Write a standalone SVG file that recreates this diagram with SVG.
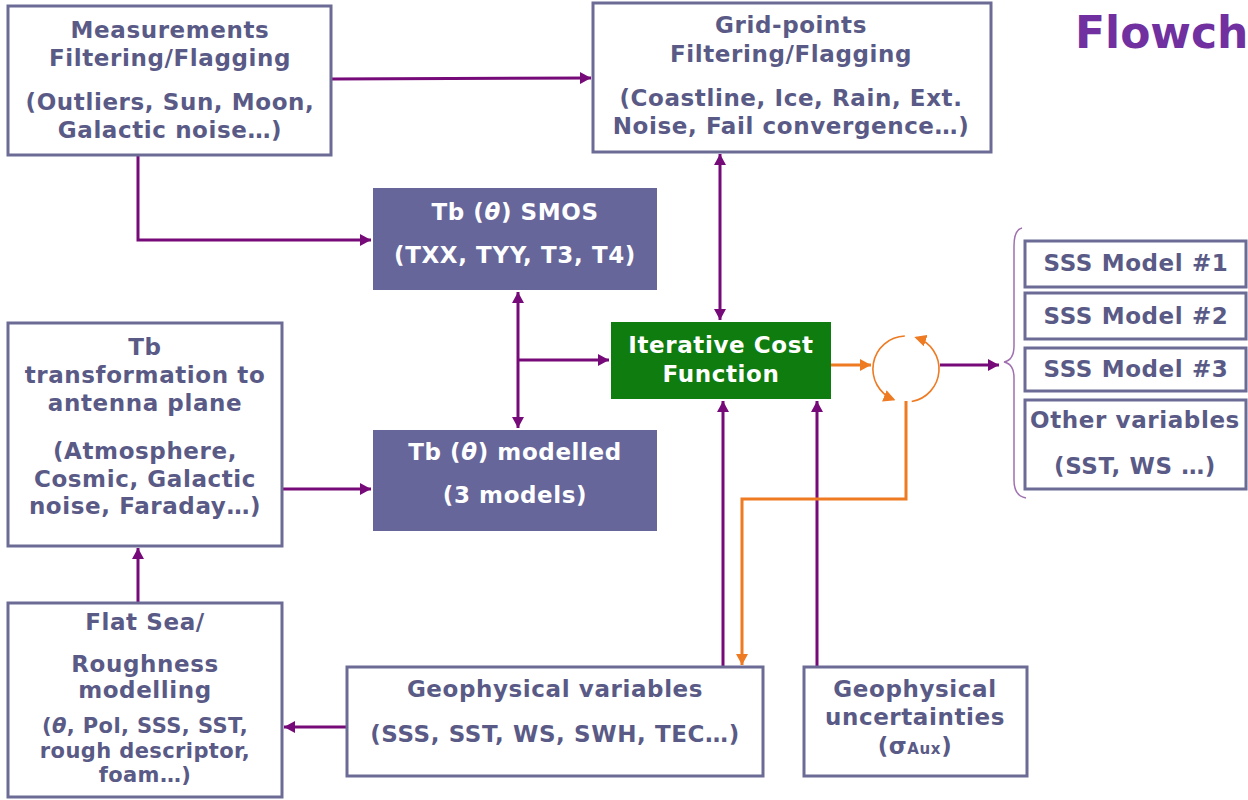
<svg xmlns="http://www.w3.org/2000/svg" width="1248" height="800" viewBox="0 0 1248 800">
<defs>
<style>
.box{fill:#ffffff;stroke:#6B6B95;stroke-width:3}
.dark{fill:#66669A}
.green{fill:#0E7C0E}
.t{font-family:"DejaVu Sans","Verdana",sans-serif;font-weight:bold;font-size:23px;letter-spacing:0.6px;fill:#5A5A86;text-anchor:middle}
.s{font-size:21px;letter-spacing:0.4px}
.w{fill:#ffffff}
.p{fill:none;stroke:#760A78;stroke-width:3}
.o{fill:none;stroke:#EE7A22;stroke-width:3}
.oc{fill:none;stroke:#EE7A22;stroke-width:1.6}
</style>
<marker id="ap" markerUnits="userSpaceOnUse" viewBox="0 0 11 12" markerWidth="11" markerHeight="12" refX="11" refY="6" orient="auto-start-reverse"><path d="M0,0 L11,6 L0,12 z" fill="#760A78"/></marker>
<marker id="ao" markerUnits="userSpaceOnUse" viewBox="0 0 11 12" markerWidth="11" markerHeight="12" refX="11" refY="6" orient="auto-start-reverse"><path d="M0,0 L11,6 L0,12 z" fill="#EE7A22"/></marker>
<marker id="aoc" markerUnits="userSpaceOnUse" viewBox="0 0 12 12" markerWidth="12" markerHeight="12" refX="10" refY="6" orient="auto"><path d="M0,0 L12,6 L0,12 z" fill="#EE7A22"/></marker>
</defs>
<rect width="1248" height="800" fill="#ffffff"/>

<text x="1075" y="48" font-family="DejaVu Sans, Verdana, sans-serif" font-weight="bold" font-size="44" fill="#7030A0">Flowch</text>

<g id="connectors">
<path class="p" d="M331,79 L591,78" marker-end="url(#ap)"/>
<path class="p" d="M138,155 V240 H371" marker-end="url(#ap)"/>
<path class="p" d="M720,154 V320" marker-start="url(#ap)" marker-end="url(#ap)"/>
<path class="p" d="M518,292 V428" marker-start="url(#ap)" marker-end="url(#ap)"/>
<path class="p" d="M518,360 H609" marker-end="url(#ap)"/>
<path class="p" d="M282,489 H371" marker-end="url(#ap)"/>
<path class="p" d="M138,603 V548" marker-end="url(#ap)"/>
<path class="p" d="M347,727 H284" marker-end="url(#ap)"/>
<path class="p" d="M723,667 V401" marker-end="url(#ap)"/>
<path class="p" d="M817,667 V401" marker-end="url(#ap)"/>
<path class="o" d="M831,365 H871" marker-end="url(#ao)"/>
<path class="p" d="M940,365 H999" marker-end="url(#ap)"/>
<path class="o" d="M906,401 V499 H742 V665" marker-end="url(#ao)"/>
<path class="oc" d="M904.8,336 A33,33 0 0 0 893.6,399.6" marker-end="url(#aoc)"/>
<path class="oc" d="M911.7,401.5 A33,33 0 0 0 916.2,337.6" marker-end="url(#aoc)"/>
<path d="M1022,228 Q1014,230 1014,246 L1014,346 Q1014,360 1004,362 Q1014,364 1014,378 L1014,480 Q1014,496 1026,498" fill="none" stroke="#A070B0" stroke-width="1.5"/>
</g>

<g id="measurements">
<rect class="box" x="8" y="6" width="323" height="149"/>
<text class="t" x="170" y="38">Measurements</text>
<text class="t" x="170" y="66">Filtering/Flagging</text>
<text class="t" x="170" y="110">(Outliers, Sun, Moon,</text>
<text class="t" x="170" y="138">Galactic noise…)</text>
</g>

<g id="gridpoints">
<rect class="box" x="593" y="3" width="398" height="149"/>
<text class="t" x="791" y="33">Grid-points</text>
<text class="t" x="791" y="62">Filtering/Flagging</text>
<text class="t" x="791" y="106">(Coastline, Ice, Rain, Ext.</text>
<text class="t" x="791" y="134">Noise, Fail convergence…)</text>
</g>

<g id="tbsmos">
<rect class="dark" x="373" y="188" width="284" height="102"/>
<text class="t w" x="515" y="220">Tb (<tspan font-style="italic">θ</tspan>) SMOS</text>
<text class="t w" x="515" y="263">(TXX, TYY, T3, T4)</text>
</g>

<g id="tbtransform">
<rect class="box" x="8" y="323" width="274" height="223"/>
<text class="t" x="145" y="355">Tb</text>
<text class="t" x="145" y="383">transformation to</text>
<text class="t" x="145" y="411">antenna plane</text>
<text class="t" x="145" y="459">(Atmosphere,</text>
<text class="t" x="145" y="487">Cosmic, Galactic</text>
<text class="t" x="145" y="514">noise, Faraday…)</text>
</g>

<g id="tbmodelled">
<rect class="dark" x="373" y="430" width="284" height="101"/>
<text class="t w" x="515" y="460">Tb (<tspan font-style="italic">θ</tspan>) modelled</text>
<text class="t w" x="515" y="503">(3 models)</text>
</g>

<g id="costfunction">
<rect class="green" x="611" y="322" width="220" height="77"/>
<text class="t w" x="721" y="353">Iterative Cost</text>
<text class="t w" x="721" y="382">Function</text>
</g>

<g id="flatsea">
<rect class="box" x="8" y="603" width="274" height="194"/>
<text class="t" x="145" y="630">Flat Sea/</text>
<text class="t" x="145" y="672">Roughness</text>
<text class="t" x="145" y="698">modelling</text>
<text class="t s" x="145" y="733">(<tspan font-style="italic">θ</tspan>, Pol, SSS, SST,</text>
<text class="t s" x="145" y="758">rough descriptor,</text>
<text class="t s" x="145" y="782">foam…)</text>
</g>

<g id="geovars">
<rect class="box" x="347" y="667" width="416" height="109"/>
<text class="t" x="555" y="697">Geophysical variables</text>
<text class="t" x="555" y="742">(SSS, SST, WS, SWH, TEC…)</text>
</g>

<g id="geounc">
<rect class="box" x="804" y="667" width="223" height="109"/>
<text class="t" x="915" y="697">Geophysical</text>
<text class="t" x="915" y="725">uncertainties</text>
<text class="t" x="915" y="754">(σ<tspan font-size="15">Aux</tspan>)</text>
</g>

<g id="sss1">
<rect class="box" x="1025" y="241" width="221" height="46"/>
<text class="t" x="1136" y="271">SSS Model #1</text>
</g>
<g id="sss2">
<rect class="box" x="1025" y="293" width="221" height="46"/>
<text class="t" x="1136" y="324">SSS Model #2</text>
</g>
<g id="sss3">
<rect class="box" x="1025" y="348" width="221" height="43"/>
<text class="t" x="1136" y="377">SSS Model #3</text>
</g>
<g id="othervars">
<rect class="box" x="1025" y="400" width="221" height="89"/>
<text class="t" x="1135" y="428">Other variables</text>
<text class="t" x="1135" y="474">(SST, WS …)</text>
</g>
</svg>
